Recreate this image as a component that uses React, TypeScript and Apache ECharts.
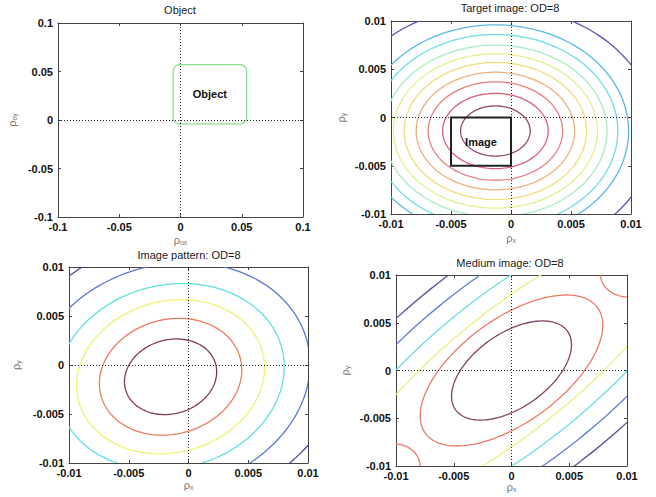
import React, { useEffect, useRef } from "react";
import * as echarts from "echarts";

// ---------- data ----------
const objTicks = [-0.1, -0.05, 0, 0.05, 0.1];
const imgTicks = [-0.01, -0.005, 0, 0.005, 0.01];

const titles = ["Object", "Target image: OD=8", "Image pattern: OD=8", "Medium image: OD=8"];
const xNames = ["ox", "x", "x", "x"];
const yNames = ["oy", "y", "y", "y"];

// rectangles: [x0, y0, x1, y1]
const objectRect = [-0.006, -0.004, 0.054, 0.057];
const imageRect = [-0.005, -0.005, 0, 0];

// contours as ellipses: [cx, cy, semiA, semiB, angleDeg] (data units)
const targetContours = [
  [-0.0013, -0.0014, 0.0029, 0.0026, 0],
  [-0.0013, -0.0014, 0.0044, 0.0039, 0],
  [-0.0013, -0.0014, 0.0056, 0.0051, 0],
  [-0.0013, -0.0014, 0.0066, 0.0061, 0],
  [-0.0013, -0.0014, 0.0076, 0.0071, 0],
  [-0.0013, -0.0014, 0.0085, 0.008, 0],
  [-0.0013, -0.0014, 0.0093, 0.0089, 0],
  [-0.0013, -0.0014, 0.0102, 0.01, 0],
  [-0.0013, -0.0014, 0.0111, 0.011, 0],
  [-0.0013, -0.0014, 0.0133, 0.013, 0],
];
const targetColors = [
  "#8e4a6c", "#dc5f78", "#ea7f82", "#f0b07e", "#f2dc78",
  "#e2f090", "#a6ecc4", "#6fdde2", "#5ab8e6", "#5656b4",
];

const patternContours = [
  [-0.0015, -0.0012, 0.0041, 0.0036, 45],
  [-0.0015, -0.0012, 0.0063, 0.0056, 45],
  [-0.0015, -0.0012, 0.0083, 0.0074, 45],
  [-0.0015, -0.0012, 0.01, 0.009, 45],
  [-0.0015, -0.0012, 0.0123, 0.011, 45],
  [-0.0015, -0.0012, 0.018, 0.0133, 45],
];
const patternColors = ["#7e3a5e", "#f07a5e", "#f2f070", "#62e0e0", "#5a78d4", "#4a4a9a"];

const mediumContours = [
  [0, 0, 0.0064, 0.0036, 45],
  [0, 0, 0.01, 0.005, 45],
  [0.0101, 0.0101, 0.0024, 0.0024, 0],
  [-0.0101, -0.0101, 0.0022, 0.0024, 0],
  [0, 0, 0.02, 0.0059, 45],
  [0, 0, 0.022, 0.0075, 45],
  [0, 0, 0.024, 0.0092, 45],
  [0, 0, 0.026, 0.011, 45],
];
const mediumColors = ["#804466", "#f07868", "#f07868", "#f07868", "#eeee80", "#6edce2", "#5f7ed4", "#4f4f96"];

// ---------- helpers ----------
const FONT = "'Liberation Sans', Arial, sans-serif";
const grids = [
  { left: 58, top: 23, width: 245, height: 194 },
  { left: 391, top: 21, width: 240, height: 193 },
  { left: 69, top: 267, width: 239, height: 196 },
  { left: 396, top: 275, width: 231, height: 191 },
];
const titlePos = [
  [180, 10],
  [510, 8],
  [189, 255],
  [510, 263],
];
const xGaps = [17, 18, 16, 15];
const yGaps = [40, 44, 47, 45];

const fmt = (v: number) => String(parseFloat(v.toFixed(6)));

function axisPair(i: number, ticks: number[], sub: string, isX: boolean) {
  const min = ticks[0];
  const max = ticks[ticks.length - 1];
  const interval = ticks[1] - ticks[0];
  const base: any = {
    type: "value",
    gridIndex: i,
    min,
    max,
    interval,
    splitLine: { show: false },
    axisLine: { show: true, onZero: false, lineStyle: { color: "#444", width: 1 } },
    axisTick: { show: true, inside: true, length: 3, lineStyle: { color: "#444" } },
  };
  const main = {
    ...base,
    position: isX ? "bottom" : "left",
    axisLabel: {
      color: "#111",
      fontSize: 11,
      fontWeight: "bold",
      fontFamily: FONT,
      margin: isX ? 4 : 5,
      formatter: fmt,
    },
    name: `{r|ρ}{s|${sub}}`,
    nameLocation: "middle",
    nameGap: isX ? xGaps[i] : yGaps[i],
    nameTextStyle: {
      color: "#777",
      fontFamily: FONT,
      rich: {
        r: { fontSize: 11, color: "#777", fontFamily: FONT },
        s: { fontSize: 7, color: "#777", fontFamily: FONT, padding: [5, 0, 0, 0] },
      },
    },
  };
  const mirror = {
    ...base,
    position: isX ? "top" : "right",
    axisLabel: { show: false },
  };
  return [main, mirror];
}

function ellipseSeries(i: number, data: number[][], colors: string[]) {
  return {
    type: "custom",
    xAxisIndex: 2 * i,
    yAxisIndex: 2 * i,
    clip: true,
    silent: true,
    data,
    renderItem: (params: any, api: any) => {
      const cx = api.value(0);
      const cy = api.value(1);
      const a = api.value(2);
      const b = api.value(3);
      const th = (api.value(4) * Math.PI) / 180;
      const pts: number[][] = [];
      const N = 160;
      for (let k = 0; k <= N; k++) {
        const t = (2 * Math.PI * k) / N;
        const u = a * Math.cos(t);
        const v = b * Math.sin(t);
        pts.push(api.coord([cx + u * Math.cos(th) - v * Math.sin(th), cy + u * Math.sin(th) + v * Math.cos(th)]));
      }
      return {
        type: "polyline",
        shape: { points: pts },
        style: { fill: "none", stroke: colors[params.dataIndex], lineWidth: 1.3 },
      };
    },
  };
}

function rectSeries(i: number, rect: number[], label: string, color: string, width: number, radius: number) {
  return {
    type: "custom",
    xAxisIndex: 2 * i,
    yAxisIndex: 2 * i,
    silent: true,
    data: [rect],
    renderItem: (_params: any, api: any) => {
      const p0 = api.coord([api.value(0), api.value(3)]);
      const p1 = api.coord([api.value(2), api.value(1)]);
      return {
        type: "group",
        children: [
          {
            type: "rect",
            shape: { x: p0[0], y: p0[1], width: p1[0] - p0[0], height: p1[1] - p0[1], r: radius },
            style: { fill: "none", stroke: color, lineWidth: width },
          },
          {
            type: "text",
            x: (p0[0] + p1[0]) / 2,
            y: (p0[1] + p1[1]) / 2,
            style: {
              text: label,
              align: "center",
              verticalAlign: "middle",
              fill: "#111",
              font: `bold 11px ${FONT}`,
            },
          },
        ],
      };
    },
  };
}

function crossSeries(i: number) {
  return {
    type: "line",
    xAxisIndex: 2 * i,
    yAxisIndex: 2 * i,
    data: [],
    markLine: {
      silent: true,
      symbol: "none",
      label: { show: false },
      lineStyle: { type: [1, 2], color: "#222", width: 1 },
      data: [{ xAxis: 0 }, { yAxis: 0 }],
    },
  };
}

export default function App() {
  const ref = useRef<HTMLDivElement>(null);
  useEffect(() => {
    const chart = echarts.init(ref.current!, undefined, { renderer: "svg" });
    const xAxis: any[] = [];
    const yAxis: any[] = [];
    for (let i = 0; i < 4; i++) {
      const ticks = i === 0 ? objTicks : imgTicks;
      xAxis.push(...axisPair(i, ticks, xNames[i], true));
      yAxis.push(...axisPair(i, ticks, yNames[i], false));
    }
    const option: any = {
      animation: false,
      backgroundColor: "#ffffff",
      grid: grids.map((g) => ({ ...g, containLabel: false })),
      xAxis,
      yAxis,
      graphic: titles.map((t, i) => ({
        type: "text",
        x: titlePos[i][0],
        y: titlePos[i][1],
        style: { text: t, align: "center", verticalAlign: "middle", fill: "#222", font: `11px ${FONT}` },
      })),
      series: [
        rectSeries(0, objectRect, "Object", "#8ee08e", 1.3, 6),
        crossSeries(0),
        ellipseSeries(1, targetContours, targetColors),
        rectSeries(1, imageRect, "Image", "#222", 2, 0),
        crossSeries(1),
        ellipseSeries(2, patternContours, patternColors),
        crossSeries(2),
        ellipseSeries(3, mediumContours, mediumColors),
        crossSeries(3),
      ],
    };
    chart.setOption(option);
    return () => chart.dispose();
  }, []);
  return (
    <div
      ref={ref}
      style={{ position: "fixed", left: 0, top: 0, width: 656, height: 497, background: "#fff" }}
    />
  );
}
